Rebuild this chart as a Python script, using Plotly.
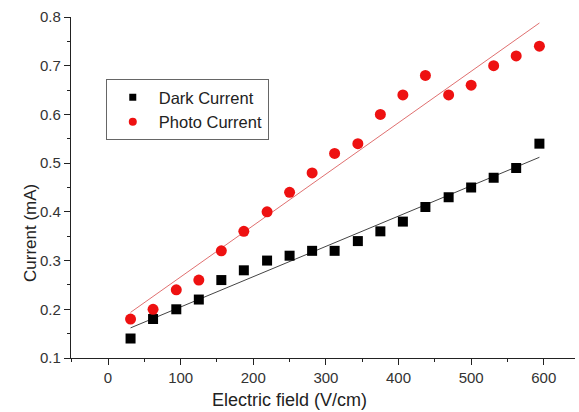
import numpy as np
import plotly.graph_objects as go

field = [31, 62, 94, 125, 156, 187, 219, 250, 281, 312, 344, 375, 406, 437, 469, 500, 531, 562, 594]
dark = [0.14, 0.18, 0.20, 0.22, 0.26, 0.28, 0.30, 0.31, 0.32, 0.32, 0.34, 0.36, 0.38, 0.41, 0.43, 0.45, 0.47, 0.49, 0.54]
photo = [0.18, 0.20, 0.24, 0.26, 0.32, 0.36, 0.40, 0.44, 0.48, 0.52, 0.54, 0.60, 0.64, 0.68, 0.64, 0.66, 0.70, 0.72, 0.74]
x_title = "Electric field (V/cm)"
y_title = "Current (mA)"

x = np.array(field, dtype=float)
dk = np.polyfit(x, dark, 1)
ph = np.polyfit(x, photo, 1)
xf = np.array([x.min(), x.max()])

fig = go.Figure()
fig.add_trace(go.Scatter(x=xf, y=np.polyval(dk, xf), mode="lines",
                         line=dict(color="#444444", width=1), showlegend=False))
fig.add_trace(go.Scatter(x=xf, y=np.polyval(ph, xf), mode="lines",
                         line=dict(color="#e07070", width=1), showlegend=False))
fig.add_trace(go.Scatter(x=field, y=dark, mode="markers", showlegend=False,
                         marker=dict(symbol="square", color="black", size=10)))
fig.add_trace(go.Scatter(x=field, y=photo, mode="markers", showlegend=False,
                         marker=dict(symbol="circle", color="#ee1111", size=11)))
# legend entries (smaller symbols, as in the reference legend)
fig.add_trace(go.Scatter(x=[None], y=[None], mode="markers", name="Dark Current",
                         marker=dict(symbol="square", color="black", size=7)))
fig.add_trace(go.Scatter(x=[None], y=[None], mode="markers", name="Photo Current",
                         marker=dict(symbol="circle", color="#ee1111", size=8)))

font = "Liberation Sans, Arial, sans-serif"
W, H = 579, 412
L, R, T, B = 71, 4, 17, 54
pw, ph_ = W - L - R, H - T - B

fig.update_layout(
    width=W, height=H,
    margin=dict(l=L, r=R, t=T, b=B),
    paper_bgcolor="white", plot_bgcolor="white",
    font=dict(family=font, size=15, color="#333333"),
    legend=dict(x=0.069, y=0.818, xanchor="left", yanchor="top",
                bordercolor="#666666", borderwidth=1, bgcolor="white",
                font=dict(size=16.5, color="#222222"), itemsizing="trace",
                itemwidth=42, tracegroupgap=0),
    xaxis=dict(range=[-51, 643], tickvals=[0, 100, 200, 300, 400, 500, 600],
               ticks="outside", ticklen=6, tickcolor="#222", showline=True,
               linecolor="#222", linewidth=1.2, showgrid=False, zeroline=False,
               minor=dict(ticks="outside", ticklen=3, dtick=50, tick0=0, tickcolor="#222")),
    yaxis=dict(range=[0.1, 0.8], tickvals=[0.1, 0.2, 0.3, 0.4, 0.5, 0.6, 0.7, 0.8],
               ticks="outside", ticklen=6, tickcolor="#222", showline=True,
               linecolor="#222", linewidth=1.2, showgrid=False, zeroline=False,
               minor=dict(ticks="outside", ticklen=3, dtick=0.05, tick0=0.1, tickcolor="#222")),
    annotations=[
        dict(text=x_title, xref="paper", yref="paper",
             x=(289 - L) / pw, y=-(400 - T - ph_) / ph_,
             xanchor="center", yanchor="middle", showarrow=False,
             font=dict(size=18, color="#222")),
        dict(text=y_title, xref="paper", yref="paper",
             x=-(L - 30) / pw, y=(T + ph_ - 233) / ph_,
             xanchor="center", yanchor="middle", showarrow=False, textangle=-90,
             font=dict(size=17, color="#222")),
    ],
)
fig.write_html("out.html")
